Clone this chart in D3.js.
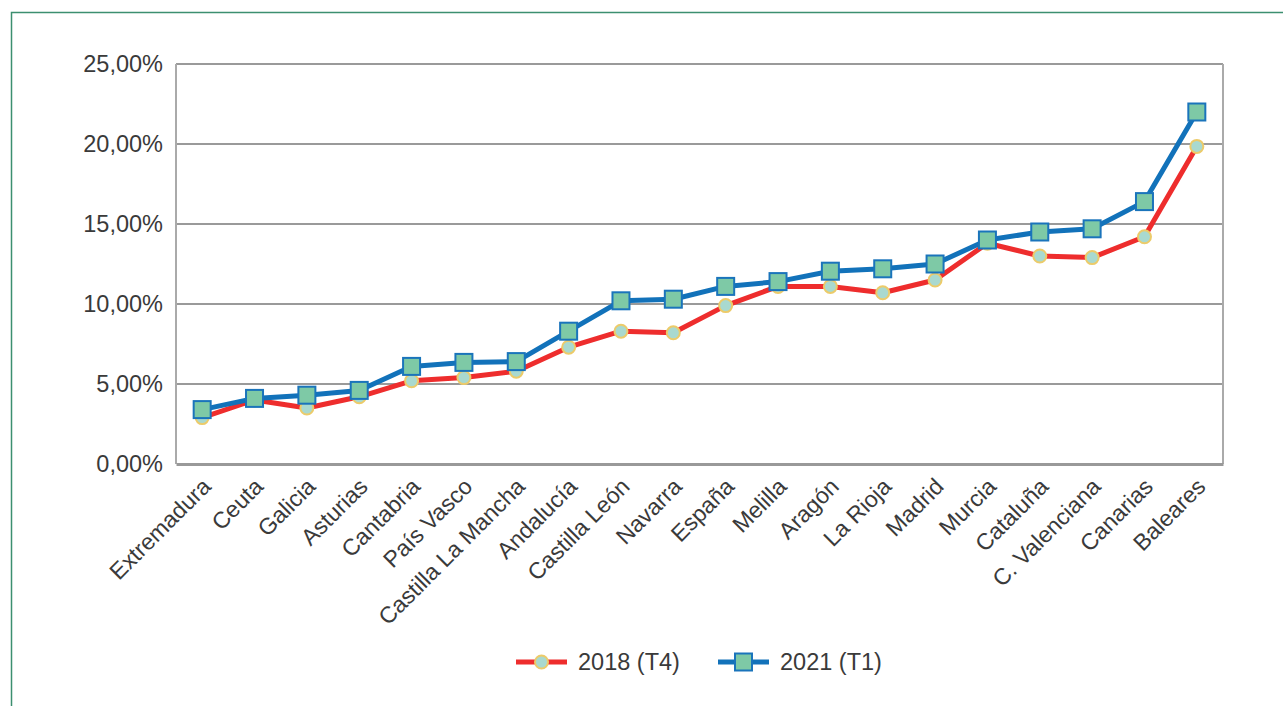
<!DOCTYPE html>
<html>
<head>
<meta charset="utf-8">
<script src="https://cdn.jsdelivr.net/npm/d3@7"></script>
<style>
  html, body { margin: 0; padding: 0; background: #fff; }
  svg { display: block; }
  text { font-family: "Liberation Sans", Arial, Helvetica, sans-serif; fill: #3a3a3a; }
</style>
</head>
<body>
<svg id="chart" width="1283" height="706"></svg>
<script>
// Regions, ordered by 2021 (T1) rate
const categories = ["Extremadura", "Ceuta", "Galicia", "Asturias", "Cantabria", "País Vasco",
  "Castilla La Mancha", "Andalucía", "Castilla León", "Navarra", "España", "Melilla", "Aragón",
  "La Rioja", "Madrid", "Murcia", "Cataluña", "C. Valenciana", "Canarias", "Baleares"];

// Percent values per series
const values2018 = [2.9, 4.0, 3.5, 4.2, 5.2, 5.4, 5.8, 7.3, 8.3, 8.2, 9.9, 11.1, 11.1,
  10.7, 11.5, 13.8, 13.0, 12.9, 14.2, 19.85];
const values2021 = [3.4, 4.1, 4.3, 4.6, 6.1, 6.35, 6.4, 8.3, 10.2, 10.3, 11.1, 11.4, 12.05,
  12.2, 12.5, 14.0, 14.5, 14.7, 16.4, 22.0];

const seriesNames = ["2018 (T4)", "2021 (T1)"];
const yTicks = [0, 5, 10, 15, 20, 25];

const svg = d3.select("#chart");
const FONT = "'Liberation Sans', Arial, sans-serif";
const TEXT_COLOR = "#3d3d3d";

// outer frame
svg.append("path")
  .attr("d", "M11.5,706 L11.5,12.5 L1283,12.5")
  .attr("fill", "none")
  .attr("stroke", "#3c8f70")
  .attr("stroke-width", 1.5);

const plot = { left: 176, right: 1223, top: 64, bottom: 464 };

const x = d3.scaleBand().domain(categories).range([plot.left, plot.right]);
const y = d3.scaleLinear().domain([0, 25]).range([plot.bottom, plot.top]);
const cx = d => x(d) + x.bandwidth() / 2;

const fmt = v => d3.format(".2f")(v).replace(".", ",") + "%";

// horizontal grid
svg.append("g")
  .selectAll("line")
  .data(yTicks.filter(t => t > 0))
  .join("line")
  .attr("x1", plot.left).attr("x2", plot.right)
  .attr("y1", d => y(d)).attr("y2", d => y(d))
  .attr("stroke", "#9a9a9a").attr("stroke-width", 2);

// side borders
svg.append("line")
  .attr("x1", plot.left).attr("x2", plot.left)
  .attr("y1", plot.top).attr("y2", plot.bottom)
  .attr("stroke", "#aaaaaa").attr("stroke-width", 2);
svg.append("line")
  .attr("x1", plot.right).attr("x2", plot.right)
  .attr("y1", plot.top).attr("y2", plot.bottom)
  .attr("stroke", "#aaaaaa").attr("stroke-width", 2);

// y axis labels
const yAxis = d3.axisLeft(y).tickValues(yTicks).tickFormat(fmt).tickSize(0).tickPadding(13);
const gy = svg.append("g").attr("transform", `translate(${plot.left},0)`).call(yAxis);
gy.select(".domain").remove();
gy.selectAll("text").attr("font-size", 23.5).style("font-family", FONT).attr("fill", TEXT_COLOR);

// x axis baseline + rotated labels
const xAxis = d3.axisBottom(x).tickSize(0).tickPadding(0);
const gx = svg.append("g").attr("transform", `translate(0,${plot.bottom})`).call(xAxis);
gx.select(".domain").attr("stroke", "#999").attr("stroke-width", 3);
gx.selectAll("text")
  .attr("font-size", 23)
  .style("font-family", FONT)
  .attr("fill", TEXT_COLOR)
  .attr("text-anchor", "end")
  .attr("dy", 0)
  .attr("y", 0)
  .attr("transform", "translate(10,24) rotate(-45)");

// series lines
const line = d3.line().x((d, i) => cx(categories[i])).y(d => y(d));

svg.append("path").datum(values2018)
  .attr("d", line).attr("fill", "none")
  .attr("stroke", "#ee2d2d").attr("stroke-width", 5).attr("stroke-linejoin", "round");

svg.append("g").selectAll("circle").data(values2018).join("circle")
  .attr("cx", (d, i) => cx(categories[i])).attr("cy", d => y(d)).attr("r", 6.5)
  .attr("fill", "#a9d9cf").attr("stroke", "#eccb6a").attr("stroke-width", 2);

svg.append("path").datum(values2021)
  .attr("d", line).attr("fill", "none")
  .attr("stroke", "#1272ba").attr("stroke-width", 5).attr("stroke-linejoin", "round");

const sq = 17;
svg.append("g").selectAll("rect").data(values2021).join("rect")
  .attr("x", (d, i) => cx(categories[i]) - sq / 2).attr("y", d => y(d) - sq / 2)
  .attr("width", sq).attr("height", sq)
  .attr("fill", "#7ec9a6").attr("stroke", "#1a74bb").attr("stroke-width", 2);

// legend
const leg = svg.append("g").attr("transform", "translate(0,662)");
const l1 = leg.append("g").attr("transform", "translate(516,0)");
l1.append("line").attr("x1", 0).attr("x2", 51).attr("y1", 0).attr("y2", 0)
  .attr("stroke", "#ee2d2d").attr("stroke-width", 5);
l1.append("circle").attr("cx", 25.5).attr("cy", 0).attr("r", 6.5)
  .attr("fill", "#a9d9cf").attr("stroke", "#eccb6a").attr("stroke-width", 2);
l1.append("text").attr("x", 62).attr("y", 0).attr("dy", "0.36em")
  .attr("font-size", 23.5).attr("fill", TEXT_COLOR).text(seriesNames[0]);

const l2 = leg.append("g").attr("transform", "translate(718,0)");
l2.append("line").attr("x1", 0).attr("x2", 51).attr("y1", 0).attr("y2", 0)
  .attr("stroke", "#1272ba").attr("stroke-width", 5);
l2.append("rect").attr("x", 25.5 - sq / 2).attr("y", -sq / 2).attr("width", sq).attr("height", sq)
  .attr("fill", "#7ec9a6").attr("stroke", "#1a74bb").attr("stroke-width", 2);
l2.append("text").attr("x", 62).attr("y", 0).attr("dy", "0.36em")
  .attr("font-size", 23.5).attr("fill", TEXT_COLOR).text(seriesNames[1]);
</script>
</body>
</html>
